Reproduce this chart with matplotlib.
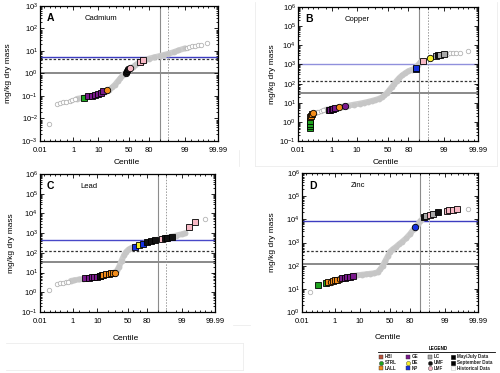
import numpy as np
import matplotlib
matplotlib.use("Agg")
import matplotlib.pyplot as plt
from matplotlib.ticker import FixedLocator, NullFormatter, LogLocator, LogFormatterSciNotation
from statistics import NormalDist

plt.rcParams['font.family'] = ['Liberation Sans', 'DejaVu Sans']
plt.rcParams['mathtext.fontset'] = 'custom'
plt.rcParams['mathtext.rm'] = 'Liberation Sans'
plt.rcParams['mathtext.it'] = 'Liberation Sans:italic'
plt.rcParams['mathtext.bf'] = 'Liberation Sans:bold'

# ---------------- data ----------------
centile_ticks = [0.01, 1, 10, 50, 80, 99, 99.99]
centile_labels = ['0.01', '1', '10', '50', '80', '99', '99.99']

# Cadmium
cd_band_p = [1.5, 3, 5, 8, 12, 16, 20, 24, 28, 32, 36, 40, 44, 48, 52, 56, 60, 65, 70, 75, 80, 85, 90, 93, 95, 97, 98, 99]
cd_band_v = [0.075, 0.085, 0.095, 0.11, 0.13, 0.15, 0.18, 0.24, 0.32, 0.45, 0.62, 0.85, 1.05, 1.3, 1.6, 1.9, 2.3, 2.9, 3.4, 4.0, 4.6, 5.2, 6.0, 6.8, 7.5, 9.0, 10.5, 13]
cd_hist_p = [0.042, 0.13, 0.2, 0.3, 0.45, 0.65, 0.9, 1.2, 99.2, 99.4, 99.55, 99.7, 99.8, 99.87, 99.94]
cd_hist_v = [0.0055, 0.045, 0.048, 0.052, 0.056, 0.06, 0.065, 0.07, 14, 15, 16, 17, 18, 19, 22]
cd_site_p = [2.9, 4.5, 6, 8, 10, 12, 14, 17.6, 45, 47, 49, 52, 67, 72.6]
cd_site_v = [0.08, 0.095, 0.1, 0.11, 0.12, 0.14, 0.16, 0.18, 1.1, 1.35, 1.6, 1.75, 3.2, 3.8]
cd_site_id = ['STRL', 'GE', 'GE', 'GE', 'GE', 'GE', 'GE', 'LALL', 'UMF', 'UMF', 'UMF', 'LMF', 'LMF', 'LMF']
cd_site_mk = ['s', 's', 's', 's', 's', 's', 's', 'o', 'o', 'o', 'o', 'o', 's', 's']
cd_guides = [5.6, 4.6, 1.0]

# Copper
cu_band_p = [0.5, 1.0, 2, 3, 5, 8, 12, 16, 20, 25, 30, 35, 40, 44, 48, 52, 56, 60, 64, 68, 72, 76, 80, 84, 87, 89, 91]
cu_band_v = [4.3, 5.0, 5.8, 6.3, 7.0, 8.0, 9.0, 10, 11, 12.5, 14, 16, 19, 24, 32, 45, 65, 95, 140, 200, 270, 350, 450, 540, 620, 900, 1300]
cu_hist_p = [0.1, 0.13, 0.16, 0.2, 0.28, 0.38, 99.3, 99.5, 99.65, 99.75, 99.85, 99.95]
cu_hist_v = [2.8, 3.0, 3.2, 3.4, 3.7, 4.0, 3700, 3850, 3950, 4050, 4200, 5000]
cu_site_p = [0.064, 0.064, 0.064, 0.064, 0.066, 0.072, 0.08, 0.1, 0.7, 0.85, 1.0, 1.2, 1.45, 2.2, 3.8,
             87.5, 88, 92.6, 95.9, 97.6, 98.0, 98.4, 99.0]
cu_site_v = [0.45, 0.6, 0.8, 1.1, 1.7, 2.1, 2.5, 3.0, 4.2, 4.4, 4.6, 4.9, 5.2, 6.0, 6.6,
             550, 680, 1600, 2300, 2900, 3100, 3300, 3500]
cu_site_id = ['STRL', 'STRL', 'STRL', 'STRL', 'LALL', 'LALL', 'LALL', 'LALL', 'GE', 'GE', 'GE', 'GE', 'GE', 'LALL', 'GE',
              'NP', 'NP', 'LMF', 'DE', 'LC', 'UMF', 'LC', 'LC']
cu_site_mk = ['s', 's', 's', 's', 's', 's', 's', 'o', 's', 's', 's', 's', 's', 'o', 'o',
              's', 's', 's', 'o', 's', 's', 's', 's']
cu_guides = [1000, 145, 32]

# Lead
pb_band_p = [0.8, 1.2, 2, 3, 5, 8, 12, 16, 20, 25, 30, 33, 36, 40, 44, 48, 52, 56, 60, 65, 70, 75, 80, 85, 90, 93, 96, 98, 99, 99.3]
pb_band_v = [3.8, 4.1, 4.5, 4.8, 5.3, 6.0, 6.7, 7.4, 8.2, 9.2, 10.5, 13, 20, 40, 75, 115, 150, 175, 195, 220, 255, 290, 340, 410, 470, 530, 620, 750, 900, 1000]
pb_hist_p = [0.042, 0.13, 0.2, 0.3, 0.45, 0.6, 99.95]
pb_hist_v = [1.3, 2.7, 2.9, 3.1, 3.3, 3.5, 5400]
pb_site_p = [3.6, 5, 6.5, 8, 10, 12, 12.5, 14, 15, 18, 21, 24, 27, 30, 62.5, 68, 75, 80, 84, 88, 92.7, 94.4, 95.5, 97, 99.57, 99.79]
pb_site_v = [5.1, 5.4, 5.7, 6.0, 6.3, 6.7, 7.0, 7.3, 7.5, 8.0, 8.5, 9.0, 9.5, 10, 200, 245, 290, 370, 400, 440, 480, 560, 600, 650, 2000, 3500]
pb_site_id = ['GE', 'GE', 'GE', 'GE', 'GE', 'GE', 'UMF', 'UMF', 'LALL', 'LALL', 'LALL', 'LALL', 'LALL', 'LALL',
              'NP', 'DE', 'NP', 'UMF', 'UMF', 'UMF', 'LMF', 'UMF', 'UMF', 'UMF', 'LMF', 'LMF']
pb_site_mk = ['s'] * 13 + ['o'] + ['s'] * 12
pb_guides = [450, 128, 36]

# Zinc
zn_band_p = [0.5, 1, 2, 4, 6, 8, 12, 16, 20, 25, 30, 34, 38, 42, 46, 50, 55, 60, 65, 70, 75, 80, 84, 88, 90, 92]
zn_band_v = [19.5, 23, 28, 33, 36, 38, 41, 43, 45, 47, 52, 70, 100, 160, 250, 400, 520, 650, 850, 1100, 1500, 2300, 3700, 6000, 8500, 11000]
zn_hist_p = [0.036, 99.95]
zn_hist_v = [7.2, 29000]
zn_site_p = [0.11, 0.35, 0.44, 0.6, 0.8, 1.0, 1.3, 1.7, 2.1, 2.8, 3.5, 4.5, 6, 85.5, 92.5, 93.5, 95.5, 96.5, 97.9, 99.2, 99.4, 99.6, 99.76]
zn_site_v = [15, 18, 19, 20, 21.5, 23, 24.5, 26, 29, 30.5, 32, 34, 36, 4800, 13000, 14000, 15000, 17000, 20000, 23000, 24500, 26000, 27000]
zn_site_id = ['STRL', 'STRL', 'LALL', 'LALL', 'LALL', 'LALL', 'LALL', 'LALL', 'GE', 'GE', 'GE', 'GE', 'GE',
              'NP', 'UMF', 'LC', 'LMF', 'LC', 'UMF', 'LMF', 'LMF', 'LMF', 'LMF']
zn_site_mk = ['s', 's', 's', 'o', 's', 's', 's', 'o', 's', 's', 's', 's', 's', 'o'] + ['s'] * 9
zn_guides = [8500, 450, 123]

legend_sites = ['HBI', 'STRL', 'LALL', 'GE', 'DE', 'NP', 'LC', 'UMF', 'LMF']
legend_marks = ['s', 'o', 's', 's', 'o', 's', 's', 'o', 'o']
legend_periods = ['May/July Data', 'September Data', 'Historical Data']

site_colors = {'HBI': '#b5523b', 'STRL': '#1fa31f', 'LALL': '#f28c1a', 'GE': '#7a1a8c', 'DE': '#f5ef2a',
               'NP': '#1530e0', 'LC': '#a8a8a8', 'UMF': '#111111', 'LMF': '#f7b8c4'}

# ---------------- probit scale ----------------
_nd = NormalDist()
_inv_cdf = np.vectorize(lambda q: _nd.inv_cdf(q), otypes=[float])
_cdf = np.vectorize(lambda z: _nd.cdf(z), otypes=[float])


def fwd(p):
    p = np.asarray(p, dtype=float)
    q = np.clip(p / 100.0, 1e-12, 1 - 1e-12)
    if q.size == 0:
        return q
    return _inv_cdf(q)


def inv(z):
    z = np.asarray(z, dtype=float)
    if z.size == 0:
        return z
    return _cdf(z) * 100.0


fig = plt.figure(figsize=(5.0, 3.73), dpi=100)

# faint page-frame artefacts around the panels
frame = fig.add_axes([0, 0, 1, 1], zorder=-2)
frame.set_xlim(0, 500)
frame.set_ylim(373, 0)
frame.axis('off')
for xs, ys in [([255, 255], [2, 166]), ([255, 497], [166, 166]), ([497, 497], [2, 166]),
               ([239, 239], [150, 166]), ([6, 243], [343, 343]), ([6, 243], [370, 370]),
               ([243, 243], [343, 370]), ([233, 250], [325, 325])]:
    frame.plot(xs, ys, color='#ededed', lw=0.6)

panels = [
    dict(pos=[0.080, 0.622, 0.356, 0.362], ylim=(1e-3, 1e3), letter='A', name='Cadmium', namex=0.34,
         band=(cd_band_p, cd_band_v), hist=(cd_hist_p, cd_hist_v),
         sites=(cd_site_p, cd_site_v, cd_site_id, cd_site_mk), guides=cd_guides, blue='#3c3cc0',
         ylab_x=-0.155, xlab_y=-0.13),
    dict(pos=[0.596, 0.622, 0.360, 0.359], ylim=(1e-1, 1e6), letter='B', name='Copper', namex=0.33,
         band=(cu_band_p, cu_band_v), hist=(cu_hist_p, cu_hist_v),
         sites=(cu_site_p, cu_site_v, cu_site_id, cu_site_mk), guides=cu_guides, blue='#9090dc',
         ylab_x=-0.125, xlab_y=-0.135),
    dict(pos=[0.080, 0.1635, 0.350, 0.370], ylim=(1e-1, 1e6), letter='C', name='Lead', namex=0.28,
         band=(pb_band_p, pb_band_v), hist=(pb_hist_p, pb_hist_v),
         sites=(pb_site_p, pb_site_v, pb_site_id, pb_site_mk), guides=pb_guides, blue='#4848c8',
         ylab_x=-0.145, xlab_y=-0.165),
    dict(pos=[0.604, 0.1635, 0.352, 0.3727], ylim=(1e0, 1e6), letter='D', name='Zinc', namex=0.32,
         band=(zn_band_p, zn_band_v), hist=(zn_hist_p, zn_hist_v),
         sites=(zn_site_p, zn_site_v, zn_site_id, zn_site_mk), guides=zn_guides, blue='#3c3cc0',
         ylab_x=-0.15, xlab_y=-0.155),
]

minor_x = [0.02, 0.05, 0.1, 0.2, 0.5, 2, 5, 20, 30, 40, 60, 70, 90, 95, 98, 99.5, 99.8, 99.9, 99.95, 99.98]

for cfg in panels:
    ax = fig.add_axes(cfg['pos'])
    ax.set_xscale('function', functions=(fwd, inv))
    ax.set_yscale('log')
    ax.set_xlim(0.01, 99.99)
    ax.set_ylim(*cfg['ylim'])

    ax.xaxis.set_major_locator(FixedLocator(centile_ticks))
    ax.set_xticklabels(centile_labels)
    ax.xaxis.set_minor_locator(FixedLocator(minor_x))
    ax.xaxis.set_minor_formatter(NullFormatter())
    ax.yaxis.set_major_locator(LogLocator(base=10, numticks=20))
    ax.yaxis.set_major_formatter(LogFormatterSciNotation())
    ax.yaxis.set_minor_locator(LogLocator(base=10, subs=np.arange(2, 10), numticks=20))
    ax.yaxis.set_minor_formatter(NullFormatter())

    ax.tick_params(which='both', direction='in', top=True, right=True, width=0.6, colors='black')
    ax.tick_params(which='major', length=3, labelsize=5.5)
    ax.tick_params(axis='x', which='major', pad=4.5)
    ax.tick_params(axis='y', which='major', pad=1.5)
    ax.tick_params(which='minor', length=1.5)
    for sp in ax.spines.values():
        sp.set_linewidth(0.9)

    # guideline lines
    blue_v, dot_v, gray_v = cfg['guides']
    ax.axhline(blue_v, color=cfg['blue'], lw=1.0, zorder=1)
    ax.axhline(dot_v, color='#333333', lw=0.9, ls=(0, (2, 1.5)), zorder=1)
    ax.axhline(gray_v, color='#6a6a6a', lw=1.1, zorder=1)
    ax.axvline(90, color='#8c8c8c', lw=0.8, zorder=1)
    ax.axvline(95, color='#9a9a9a', lw=0.7, ls=(0, (1.5, 1.5)), zorder=1)

    # historical band
    bp, bv = cfg['band']
    ax.plot(bp, bv, '-', color='#cdcdcd', lw=4.2, solid_capstyle='round', zorder=2)
    ax.plot(bp, bv, 'o', color='#c6c6c6', ms=4.2, mew=0, zorder=2)
    hp, hv = cfg['hist']
    ax.plot(hp, hv, 'o', mfc='white', mec='#b4b4b4', ms=3.2, mew=0.6, ls='none', zorder=3)

    # site samples
    sp_, sv_, sid, smk = cfg['sites']
    for p, v, s, m in zip(sp_, sv_, sid, smk):
        ax.plot([p], [v], marker=m, ms=4.3 if m == 's' else 4.6, mfc=site_colors[s], mec='black',
                mew=0.6, ls='none', zorder=4)

    ax.text(0.04, 0.91, cfg['letter'], transform=ax.transAxes, fontsize=7.5, fontweight='bold',
            ha='left', va='center')
    ax.text(cfg['namex'], 0.91, cfg['name'], transform=ax.transAxes, fontsize=5.5,
            ha='center', va='center')
    ax.set_ylabel('mg/kg dry mass', fontsize=6)
    ax.yaxis.set_label_coords(cfg['ylab_x'], 0.5)
    ax.set_xlabel('Centile', fontsize=6)
    ax.xaxis.set_label_coords(0.49, cfg['xlab_y'])

# ---------------- legend ----------------
lax = fig.add_axes([0, 0, 1, 1], zorder=-1)
lax.set_xlim(0, 500)
lax.set_ylim(373, 0)
lax.axis('off')
lax.text(438, 348, 'LEGEND', fontsize=3.3, fontweight='bold', ha='center', va='center')
lax.plot([378, 495], [351.5, 351.5], color='black', lw=0.6)
col_x = [380.7, 407.7, 430.0]
row_y = [356.7, 362.5, 368.3]
for i, (s, m) in enumerate(zip(legend_sites, legend_marks)):
    cx = col_x[i // 3]
    cy = row_y[i % 3]
    lax.plot([cx], [cy], marker=m, ms=3.0, mfc=site_colors[s], mec='#333333', mew=0.3, ls='none')
    lax.text(cx + 4, cy, s, fontsize=3.3, ha='left', va='center', fontweight='bold', color='#222222')
period_fc = ['black', 'black', 'white']
period_ec = ['black', 'black', '#c8c8c8']
for j, (lbl, fc, ec) in enumerate(zip(legend_periods, period_fc, period_ec)):
    lax.plot([452.7], [row_y[j]], marker='s', ms=3.0, mfc=fc, mec=ec, mew=0.4, ls='none')
    lax.text(456.7, row_y[j], lbl, fontsize=3.3, ha='left', va='center', fontweight='bold', color='#222222')

fig.savefig('out.png', dpi=100)
